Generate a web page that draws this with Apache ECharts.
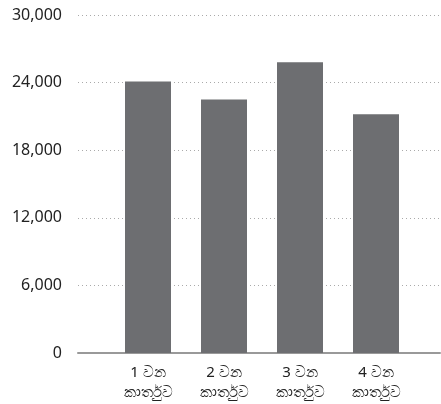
<!DOCTYPE html>
<html><head><meta charset="utf-8">
<script src="https://cdn.jsdelivr.net/npm/echarts@6/dist/echarts.min.js"></script>
<style>html,body{margin:0;padding:0;background:#fff}#c{width:441px;height:404px}</style>
</head><body><div id="c"></div>
<script>
var categories = ['1 වන\nකාර්තුව', '2 වන\nකාර්තුව', '3 වන\nකාර්තුව', '4 වන\nකාර්තුව'];
var values = [24100, 22500, 25800, 21200];
var yTicks = [0, 6000, 12000, 18000, 24000, 30000];

var chart = echarts.init(document.getElementById('c'));
var yMin = yTicks[0], yMax = yTicks[yTicks.length - 1], yStep = yTicks[1] - yTicks[0];
chart.setOption({
  animation: false,
  grid: [
    {left: 78, right: 1, top: 15, bottom: 51},
    {left: 110, right: 27, top: 15, bottom: 51}
  ],
  xAxis: [
    {gridIndex: 0, type: 'value', min: 0, max: 1, show: true,
     axisLine: {show: true, lineStyle: {color: '#999', width: 2}},
     axisTick: {show: false}, axisLabel: {show: false}, splitLine: {show: false}},
    {gridIndex: 1, type: 'category', data: categories,
     axisLine: {show: false}, axisTick: {show: false},
     axisLabel: {color: '#222', fontSize: 15, lineHeight: 20, margin: 10,
       fontFamily: 'Noto Sans, sans-serif'}}
  ],
  yAxis: [
    {gridIndex: 0, type: 'value', min: yMin, max: yMax, interval: yStep,
     axisLine: {show: false}, axisTick: {show: false},
     axisLabel: {color: '#222', fontSize: 16, margin: 16, fontFamily: 'Noto Sans, sans-serif',
       formatter: function (v) { return v.toLocaleString('en-US'); }},
     splitLine: {show: true, lineStyle: {color: '#aaa', type: [1, 3], width: 1}}},
    {gridIndex: 1, type: 'value', min: yMin, max: yMax, interval: yStep, show: false,
     splitLine: {show: false}}
  ],
  series: [{
    type: 'bar', xAxisIndex: 1, yAxisIndex: 1, data: values,
    barWidth: 46, itemStyle: {color: '#6d6e71'}, z: 3
  }]
});
</script></body></html>
